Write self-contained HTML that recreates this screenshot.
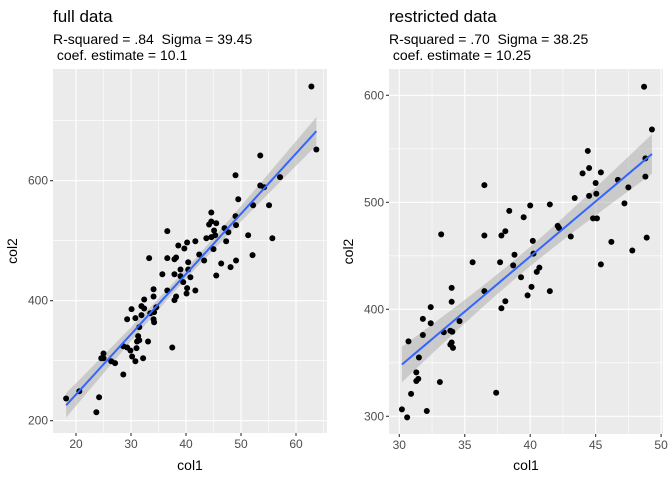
<!DOCTYPE html>
<html><head><meta charset="utf-8"><style>
body{margin:0;background:#fff;}
svg{display:block;font-family:"Liberation Sans",Arial,sans-serif;}
text{white-space:pre;}
</style></head><body>
<svg id="chart" width="672" height="480"></svg>
<script>
const fullX=[62.8,63.7,53.5,49.0,57.1,53.5,54.2,49.5,52.2,55.1,44.6,49.0,44.2,44.6,45.5,49.1,45.1,47.0,47.7,36.6,51.3,55.7,43.7,44.6,45.3,38.6,40.2,41.7,47.3,39.7,45.0,42.4,52.1,33.3,36.6,37.9,38.2,43.3,49.1,40.4,46.4,48.1,39.0,40.4,35.7,37.9,45.5,39.0,40.8,39.5,40.2,41.7,36.6,40.1,34.1,34.1,38.2,37.9,32.4,31.9,32.4,30.1,34.6,34.2,33.5,31.9,29.3,30.8,34.1,34.2,31.5,31.3,31.5,31.1,33.1,28.6,29.3,37.5,31.0,29.9,25.0,24.6,25.0,30.2,32.2,30.8,26.4,27.1,28.6,20.6,18.2,24.2,23.7];
const fullY=[757,652,642,609,606,592,589,569,559,559,547,541,527,532,529,526,517,521,514,516,509,504,504,506,509,492,497,499,499,487,486,477,476,471,471,469,472,467,467,464,462,456,452,452,444,444,442,441,439,431,421,417,417,412,419,407,407,401,402,391,387,386,389,381,379,376,369,371,369,364,356,341,334,332,332,324,322,322,321,317,312,304,304,307,304,299,299,296,277,249,237,239,214];
const restX=[48.7,49.3,36.5,44.4,44.5,45.4,44.0,48.8,48.8,46.7,45.0,47.5,45.05,44.5,43.4,47.2,41.5,40.0,38.4,39.5,44.8,45.1,42.1,42.2,43.1,33.2,36.5,37.8,38.1,48.9,40.2,46.2,40.25,38.8,47.8,35.6,37.7,45.4,38.7,40.7,40.5,39.3,40.1,39.8,41.5,36.5,34.0,34.0,38.1,37.8,32.4,31.8,32.4,34.6,31.8,33.4,33.9,34.05,30.7,34.0,33.9,34.1,31.5,31.3,31.3,31.45,33.1,30.9,37.4,30.2,32.1,30.6];
const restY=[608,568,516,548,532,528,527,541,524,521,518,514,508,506,504,499,498,497,492,486,485,485,478,476,468,470,469,469,473,467,464,463,452,451,455,444,444,442,441,439,435,430,421,413,417,417,420,407,407.5,401,402,391,387,389,376,378.5,380,379,370,369,367,364,355,341,333,335,332,321,322,306.5,305,299];
const leftXTicks=[20,30,40,50,60], leftYTicks=[200,400,600];
const rightXTicks=[30,35,40,45,50], rightYTicks=[300,400,500,600];

const NS="http://www.w3.org/2000/svg";
const svg=document.getElementById('chart');
function mk(tag,attrs,parent,text){const e=document.createElementNS(NS,tag);for(const k in attrs)e.setAttribute(k,attrs[k]);if(text!==undefined)e.textContent=text;(parent||svg).appendChild(e);return e;}

function fit(xs,ys){const n=xs.length;let mx=0,my=0;for(let i=0;i<n;i++){mx+=xs[i];my+=ys[i];}mx/=n;my/=n;let sxx=0,sxy=0;for(let i=0;i<n;i++){sxx+=(xs[i]-mx)**2;sxy+=(xs[i]-mx)*(ys[i]-my);}const b=sxy/sxx,a=my-b*mx;let sse=0;for(let i=0;i<n;i++)sse+=(ys[i]-a-b*xs[i])**2;return{a,b,mx,sxx,n,s:Math.sqrt(sse/(n-2))};}

function panel(cfg){
  const {L,R,T,B,xs,ys,xTicks,yTicks,sx,sy,title,sub1,sub2,name}=cfg;
  const g=mk('g',{},svg);
  
  
  const bg=mk('rect',{x:L,y:T,width:R-L,height:B-T,fill:'#EBEBEB'},g);
  
  for(let i=0;i<xTicks.length+1;i++){const step=xTicks[1]-xTicks[0];const v=xTicks[0]-step/2+i*step;const p=sx(v);if(p>L&&p<R)mk('line',{x1:p,x2:p,y1:T,y2:B,stroke:'#fff','stroke-width':0.55},g);}
  for(let i=0;i<yTicks.length+2;i++){const step=yTicks[1]-yTicks[0];const v=yTicks[0]-step/2+i*step;const p=sy(v);if(p>T&&p<B)mk('line',{x1:L,x2:R,y1:p,y2:p,stroke:'#fff','stroke-width':0.55},g);}
  xTicks.forEach(v=>{const p=sx(v);mk('line',{x1:p,x2:p,y1:T,y2:B,stroke:'#fff','stroke-width':1.1},g);mk('line',{x1:p,x2:p,y1:B,y2:B+3,stroke:'#333','stroke-width':1.1},g);const t=mk('text',{x:p,y:B+15,'text-anchor':'middle','font-size':12,fill:'#4D4D4D'},g,String(v));});
  yTicks.forEach(v=>{const p=sy(v);mk('line',{x1:L,x2:R,y1:p,y2:p,stroke:'#fff','stroke-width':1.1},g);mk('line',{x1:L-3,x2:L,y1:p,y2:p,stroke:'#333','stroke-width':1.1},g);const t=mk('text',{x:L-5,y:p+4,'text-anchor':'end','font-size':12,fill:'#4D4D4D'},g,String(v));});
  const f=fit(xs,ys);const xmin=Math.min(...xs),xmax=Math.max(...xs);const tq=1.98;
  let up=[],lo=[],ln=[];
  for(let k=0;k<=80;k++){const x=xmin+(xmax-xmin)*k/80;const yh=f.a+f.b*x;const se=f.s*Math.sqrt(1/f.n+(x-f.mx)**2/f.sxx);up.push(sx(x)+','+sy(yh+tq*se));lo.push(sx(x)+','+sy(yh-tq*se));ln.push(sx(x)+','+sy(yh));}
  const band=mk('polygon',{points:up.concat(lo.reverse()).join(' '),fill:'#999',opacity:0.4},g);
  
  xs.forEach((x,i)=>{const c=mk('circle',{cx:sx(x),cy:sy(ys[i]),r:3,fill:'#000'},g);
    
    });
  const line=mk('polyline',{points:ln.join(' '),fill:'none',stroke:'#3366FF','stroke-width':2},g);
  
  const xt=mk('text',{x:(L+R)/2,y:470,'text-anchor':'middle','font-size':14,fill:'#000'},g,'col1');
  
  const yx=L-36,yy=(T+B)/2;
  const yt=mk('text',{x:yx,y:yy,'text-anchor':'middle','font-size':14,fill:'#000',transform:`rotate(-90 ${yx} ${yy})`},g,'col2');
  
  const tt=mk('text',{x:L,y:22,'font-size':17,fill:'#000'},g,title);
  
  const s1=mk('text',{x:L,y:44,'font-size':14,fill:'#000'},g,sub1);
  
  const s2=mk('text',{x:L,y:60,'font-size':14,fill:'#000'},g,sub2);
  
}
panel({L:53,R:327,T:69,B:433,xs:fullX,ys:fullY,xTicks:leftXTicks,yTicks:leftYTicks,
  sx:v=>76+(v-20)*5.5,sy:v=>420.7-(v-200)*0.6,title:'full data',
  sub1:'R-squared = .84  Sigma = 39.45',sub2:' coef. estimate = 10.1',name:'full-data-panel'});
panel({L:389,R:663,T:69,B:434,xs:restX,ys:restY,xTicks:rightXTicks,yTicks:rightYTicks,
  sx:v=>399.3+(v-30)*13.09,sy:v=>309.3-(v-400)*1.07,title:'restricted data',
  sub1:'R-squared = .70  Sigma = 38.25',sub2:' coef. estimate = 10.25',name:'restricted-data-panel'});
</script>
</body></html>
